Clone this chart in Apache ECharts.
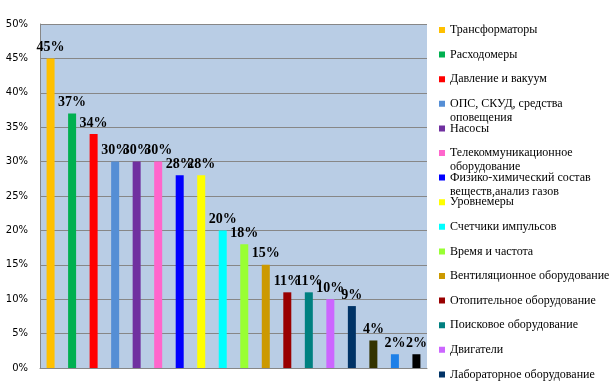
<!DOCTYPE html>
<html>
<head>
<meta charset="utf-8">
<script src="https://cdn.jsdelivr.net/npm/echarts@6/dist/echarts.min.js"></script>
<style>html,body{margin:0;padding:0;background:#fff}#c{width:614px;height:385px}</style>
</head>
<body>
<div id="c"></div>
<script>
const categories = [
  'Трансформаторы',
  'Расходомеры',
  'Давление и вакуум',
  'ОПС, СКУД, средства\nоповещения',
  'Насосы',
  'Телекоммуникационное\nоборудование',
  'Физико-химический состав\nвеществ,анализ газов',
  'Уровнемеры',
  'Счетчики импульсов',
  'Время и частота',
  'Вентиляционное оборудование',
  'Отопительное оборудование',
  'Поисковое оборудование',
  'Двигатели',
  'Лабораторное оборудование',
  'Категория 16',
  'Категория 17',
  'Категория 18'
];
const values = [45, 37, 34, 30, 30, 30, 28, 28, 20, 18, 15, 11, 11, 10, 9, 4, 2, 2];
const colors = ['#FFC000', '#00B050', '#FF0000', '#558ED5', '#7030A0', '#FF66CC', '#0000FF', '#FFFF00',
  '#00FFFF', '#99FF33', '#CC9900', '#990000', '#008080', '#CC66FF', '#003366', '#333300', '#1E80E8', '#000000'];
const legendCount = 15;
const yTicks = { min: 0, max: 50, interval: 5 };

const chart = echarts.init(document.getElementById('c'), null, { renderer: 'canvas' });
const series = categories.map((name, i) => ({
  type: 'bar',
  name: name,
  data: [values[i]],
  barWidth: 8,
  barGap: '169%',
  itemStyle: { color: colors[i] },
  label: {
    show: true,
    position: 'top',
    distance: 4,
    formatter: '{c}%',
    fontFamily: 'Liberation Serif',
    fontWeight: 'bold',
    fontSize: 14,
    color: '#000'
  }
}));

chart.setOption({
  animation: false,
  backgroundColor: '#fff',
  grid: { left: 40, right: 187, top: 24, bottom: 17, show: true, backgroundColor: '#B9CDE5', borderWidth: 0 },
  xAxis: {
    type: 'category',
    data: [''],
    axisLine: { show: true, lineStyle: { color: '#878787', width: 1 } },
    axisTick: { show: false },
    axisLabel: { show: false }
  },
  yAxis: {
    type: 'value',
    min: yTicks.min, max: yTicks.max, interval: yTicks.interval,
    axisLine: { show: true, lineStyle: { color: '#878787', width: 1 } },
    axisTick: { show: false },
    splitLine: { show: true, lineStyle: { color: '#878787', width: 1 } },
    axisLabel: { formatter: '{value}%', fontFamily: 'DejaVu Sans', fontSize: 10, color: '#000', margin: 12 }
  },
  legend: {
    orient: 'vertical',
    left: 439,
    top: 23,
    height: 1000,
    padding: 0,
    itemGap: -3.4,
    itemWidth: 6,
    itemHeight: 28,
    icon: 'path://M0,0L6,0M0,4L6,4L6,10L0,10ZM0,28L6,28',
    data: categories.slice(0, legendCount),
    formatter: n => n.indexOf('\n') >= 0 ? n : n + '\n ',
    textStyle: { fontFamily: 'Liberation Serif', fontSize: 12, color: '#000', lineHeight: 14 }
  },
  series: series
});
</script>
</body>
</html>
